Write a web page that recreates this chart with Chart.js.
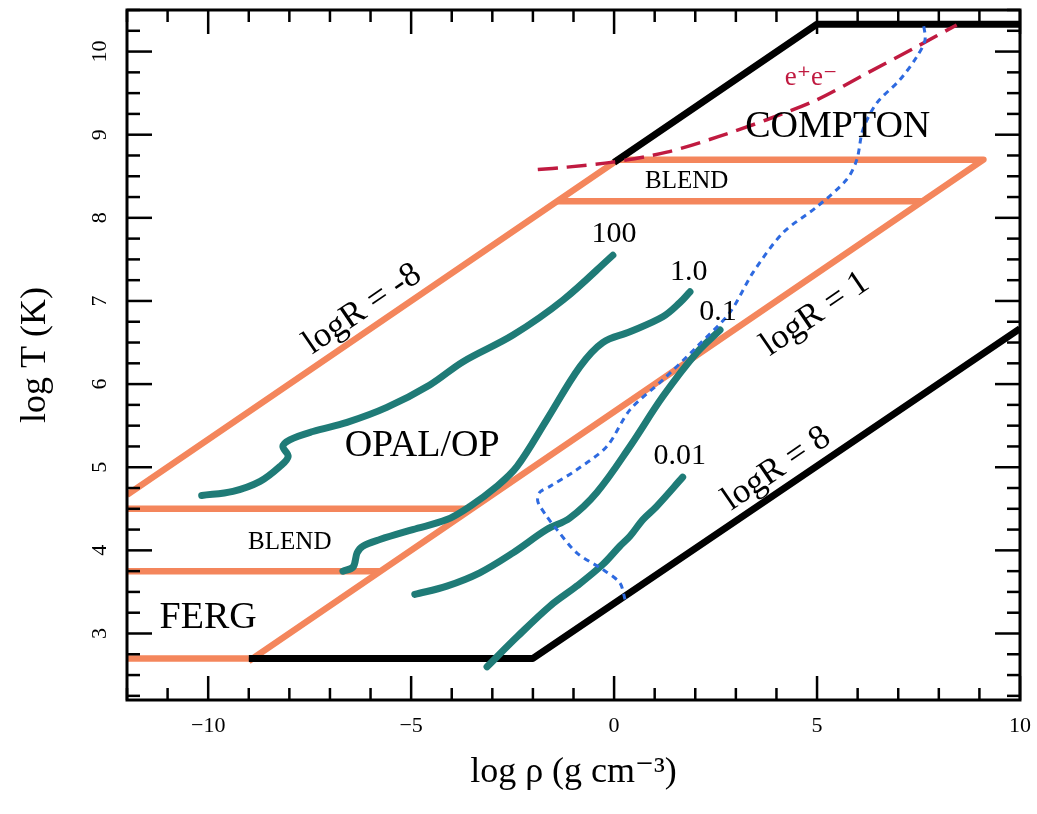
<!DOCTYPE html>
<html>
<head>
<meta charset="utf-8">
<script src="https://cdn.jsdelivr.net/npm/chart.js@4.4.1/dist/chart.umd.min.js"></script>
<style>
  html, body { margin: 0; padding: 0; background: #fff; }
  #wrap { width: 1037px; height: 814px; }
</style>
</head>
<body>
<div id="wrap"><canvas id="opacityChart"></canvas></div>
<script>
// Axis ranges and tick labels
const xRange = [-12, 10];
const yRange = [2.2, 10.5];
const xMajorTicks = [-10, -5, 0, 5, 10];
const yMajorTicks = [3, 4, 5, 6, 7, 8, 9, 10];
const xMinorStep = 1;
const yMinorStep = 0.25;

// Table boundaries (log rho, log T)
const orangeOuter = [[-12, 4.667], [0.1, 8.7], [9.1, 8.7], [-9, 2.667]];
const orangeBlendTop = [[-1.4, 8.2], [7.6, 8.2]];
const orangeBlendLow1 = [[-12, 4.5], [-3.5, 4.5]];
const orangeBlendLow2 = [[-12, 3.75], [-5.75, 3.75]];
const orangeFergBottom = [[-12, 2.7], [-9, 2.7]];
const blackLower = [[-9, 2.7], [-2, 2.7], [10, 6.667]];
const blackUpper = [[0, 8.667], [5, 10.33], [10, 10.33]];

// Stellar tracks (teal)
const track100 = [[-10.16, 4.66], [-9.39, 4.71], [-8.72, 4.83], [-8.23, 5.01], [-8.03, 5.13],
  [-8.16, 5.25], [-7.99, 5.33], [-7.42, 5.43], [-6.58, 5.54], [-5.6, 5.72], [-4.54, 5.99],
  [-3.72, 6.27], [-2.49, 6.59], [-1.26, 7.01], [-0.03, 7.55]];
const track1 = [[-6.68, 3.75], [-6.43, 3.8], [-6.33, 3.97], [-6.19, 4.05], [-5.77, 4.13],
  [-4.96, 4.25], [-4.12, 4.37], [-3.55, 4.53], [-2.89, 4.77], [-2.39, 5.01], [-1.66, 5.57],
  [-0.84, 6.21], [-0.28, 6.5], [0.39, 6.63], [1.2, 6.81], [1.62, 6.98], [1.87, 7.11]];
const track01 = [[-4.91, 3.47], [-4.12, 3.57], [-3.31, 3.73], [-2.49, 3.97], [-1.66, 4.25],
  [-1.09, 4.39], [-0.42, 4.7], [0.39, 5.25], [1.2, 5.85], [2.04, 6.38], [2.61, 6.65]];
const track001 = [[-3.13, 2.6], [-2.39, 2.96], [-1.58, 3.33], [-0.92, 3.57], [-0.28, 3.83],
  [0.14, 4.05], [0.39, 4.17], [0.71, 4.37], [1.05, 4.53], [1.69, 4.88]];

// Pair production (dashed red) and degeneracy (dotted blue) curves
const pairLine = [[-1.88, 8.58], [-1.16, 8.61], [-0.03, 8.67], [1.3, 8.79], [2.53, 8.97],
  [3.76, 9.18], [5.0, 9.42], [6.23, 9.74], [7.46, 10.06], [8.44, 10.32]];
const degenLine = [[0.27, 3.41], [0.14, 3.61], [-0.28, 3.77], [-0.92, 3.97], [-1.41, 4.25],
  [-1.66, 4.41], [-1.88, 4.59], [-1.83, 4.7], [-1.58, 4.77], [-0.92, 4.97], [-0.18, 5.25],
  [0.39, 5.69], [1.2, 6.05], [2.04, 6.45], [2.85, 6.86], [3.42, 7.34], [4.16, 7.82],
  [4.99, 8.13], [5.73, 8.46], [5.98, 8.7], [6.13, 9.06], [6.47, 9.38], [7.04, 9.66],
  [7.46, 9.94], [7.66, 10.14], [7.61, 10.36]];

const ORANGE = "#f4865c";
const BLACK = "#000000";
const TEAL = "#1f7b77";
const RED = "#c01a40";
const BLUE = "#2e6ae0";
const SERIF = "'Liberation Serif', 'DejaVu Serif', serif";

function series(points, color, width, order, extra) {
  return Object.assign({
    data: points.map((p) => ({ x: p[0], y: p[1] })),
    showLine: true,
    borderColor: color,
    borderWidth: width,
    pointRadius: 0,
    fill: false,
    order: order,
    borderJoinStyle: "round",
  }, extra || {});
}

const datasets = [
  series(orangeOuter, ORANGE, 6.5, 5),
  series(orangeBlendTop, ORANGE, 6.5, 5),
  series(orangeBlendLow1, ORANGE, 6.5, 5),
  series(orangeBlendLow2, ORANGE, 6.5, 5),
  series(orangeFergBottom, ORANGE, 6.5, 5),
  series(blackLower, BLACK, 7, 4),
  series(blackUpper, BLACK, 7, 4),
  series(track100, TEAL, 7, 3, { tension: 0.35, borderCapStyle: "round" }),
  series(track1, TEAL, 7, 3, { tension: 0.35, borderCapStyle: "round" }),
  series(track01, TEAL, 7, 3, { tension: 0.35, borderCapStyle: "round" }),
  series(track001, TEAL, 7, 3, { tension: 0.35, borderCapStyle: "round" }),
  series(pairLine, RED, 3.5, 2, { tension: 0.3, borderDash: [20, 9] }),
  series(degenLine, BLUE, 3, 1, { tension: 0.3, borderDash: [6, 5] }),
];

// Text placed in data coordinates
const annotations = [
  { text: "COMPTON", x: 5.51, y: 9.09, size: 38 },
  { text: "OPAL/OP", x: -4.73, y: 5.25, size: 38 },
  { text: "FERG", x: -10.0, y: 3.19, size: 38 },
  { text: "BLEND", x: 1.79, y: 8.44, size: 25 },
  { text: "BLEND", x: -7.99, y: 4.09, size: 25 },
  { text: "e\u207Ae\u207B", x: 4.85, y: 9.68, size: 27, color: RED },
  { text: "100", x: 0.0, y: 7.8, size: 30 },
  { text: "1.0", x: 1.84, y: 7.35, size: 30 },
  { text: "0.1", x: 2.56, y: 6.86, size: 30 },
  { text: "0.01", x: 1.62, y: 5.13, size: 30 },
  { text: "logR = -8", x: -6.2, y: 6.9, size: 35, rotate: true },
  { text: "logR = 1", x: 4.95, y: 6.84, size: 35, rotate: true },
  { text: "logR = 8", x: 4.0, y: 4.98, size: 35, rotate: true },
];

const framePlugin = {
  id: "frame",
  afterDatasetsDraw(chart) {
    const { ctx, chartArea: a, scales: { x, y } } = chart;
    ctx.save();
    ctx.strokeStyle = BLACK;
    ctx.lineCap = "butt";

    const seg = (x1, y1, x2, y2) => {
      ctx.beginPath();
      ctx.moveTo(x1, y1);
      ctx.lineTo(x2, y2);
      ctx.stroke();
    };

    // inward ticks on all four sides
    ctx.lineWidth = 2.5;
    for (let v = Math.ceil(x.min); v <= x.max; v += xMinorStep) {
      const px = x.getPixelForValue(v);
      const len = xMajorTicks.includes(v) ? 24 : 12;
      seg(px, a.bottom, px, a.bottom - len);
      seg(px, a.top, px, a.top + len);
    }
    for (let v = Math.ceil(y.min / yMinorStep) * yMinorStep; v <= y.max; v += yMinorStep) {
      const py = y.getPixelForValue(v);
      const len = yMajorTicks.includes(v) ? 25 : 13;
      seg(a.left, py, a.left + len, py);
      seg(a.right, py, a.right - len, py);
    }

    ctx.lineWidth = 3;
    ctx.strokeRect(a.left, a.top, a.right - a.left, a.bottom - a.top);

    // rotated y tick labels
    ctx.fillStyle = BLACK;
    ctx.font = "22px " + SERIF;
    ctx.textAlign = "center";
    ctx.textBaseline = "middle";
    yMajorTicks.forEach((v) => {
      ctx.save();
      ctx.translate(a.left - 27, y.getPixelForValue(v));
      ctx.rotate(-Math.PI / 2);
      ctx.fillText(String(v), 0, 0);
      ctx.restore();
    });

    // slope of the logR lines on screen (log T = (log rho + c) / 3)
    const dx = x.getPixelForValue(3) - x.getPixelForValue(0);
    const dy = y.getPixelForValue(1) - y.getPixelForValue(0);
    const angle = Math.atan2(dy, dx);

    annotations.forEach((t) => {
      ctx.save();
      ctx.font = t.size + "px " + SERIF;
      ctx.fillStyle = t.color || BLACK;
      ctx.translate(x.getPixelForValue(t.x), y.getPixelForValue(t.y));
      if (t.rotate) ctx.rotate(angle);
      ctx.fillText(t.text, 0, 0);
      ctx.restore();
    });
    ctx.restore();
  },
};

const ctx = document.getElementById("opacityChart").getContext("2d");
new Chart(ctx, {
  type: "scatter",
  data: { datasets: datasets },
  options: {
    responsive: true,
    maintainAspectRatio: false,
    animation: false,
    layout: { padding: { top: 10, right: 17, left: 0, bottom: 0 } },
    plugins: { legend: { display: false }, tooltip: { enabled: false } },
    scales: {
      x: {
        type: "linear",
        min: xRange[0],
        max: xRange[1],
        grid: { display: false },
        border: { display: false },
        afterBuildTicks: (s) => {
          s.ticks = xMajorTicks.map((v) => ({ value: v }));
        },
        afterFit: (s) => {
          s.height = 114;
          s.paddingLeft = 0;
          s.paddingRight = 0;
        },
        ticks: {
          color: BLACK,
          padding: 5,
          maxRotation: 0,
          font: { family: SERIF, size: 22 },
          callback: (v) => (v < 0 ? "\u2212" + Math.abs(v) : String(v)),
        },
        title: {
          display: true,
          text: "log \u03C1 (g cm\u207B\u00B3)",
          color: BLACK,
          padding: { top: 0, bottom: 20 },
          font: { family: SERIF, size: 36 },
        },
      },
      y: {
        type: "linear",
        min: yRange[0],
        max: yRange[1],
        grid: { display: false },
        border: { display: false },
        ticks: { display: false },
        afterFit: (s) => {
          s.width = 127;
        },
        title: {
          display: true,
          text: "log T (K)",
          color: BLACK,
          padding: { top: 14, bottom: 0 },
          font: { family: SERIF, size: 36 },
        },
      },
    },
  },
  plugins: [framePlugin],
});
</script>
</body>
</html>
